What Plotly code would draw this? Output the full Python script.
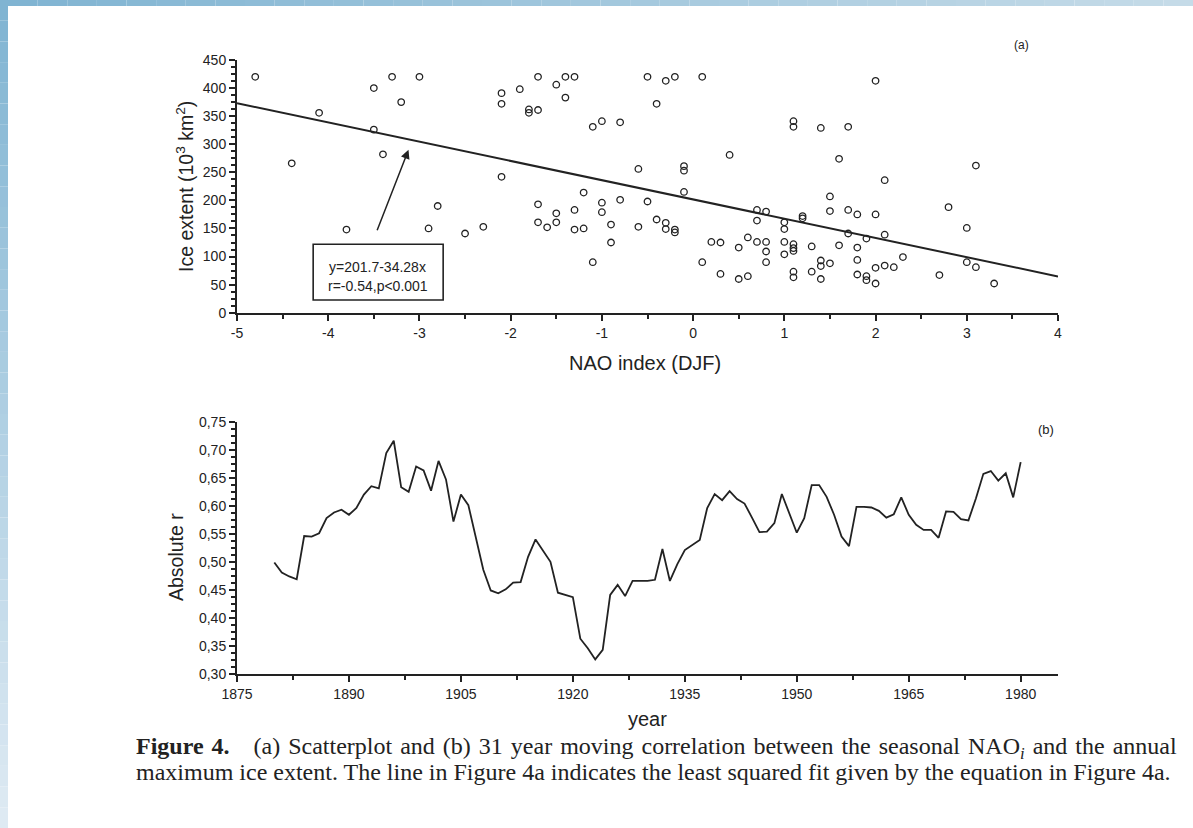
import plotly.graph_objects as go

# ---------------- data ----------------
nao_index = [
    -4.8, -4.4, -4.1, -3.8, -3.5, -3.5, -3.4, -3.3, -3.2, -3.0, -2.9, -2.8, -2.5,
    -2.3, -2.1, -2.1, -2.1, -1.9, -1.8, -1.8, -1.7, -1.7, -1.7, -1.7, -1.6, -1.5, -1.5, -1.5,
    -1.4, -1.4, -1.3, -1.3, -1.3, -1.2, -1.2, -1.1, -1.1, -1.0, -1.0, -1.0, -0.9, -0.9,
    -0.8, -0.8, -0.6, -0.6, -0.5, -0.5, -0.4, -0.4, -0.3, -0.3, -0.3, -0.2, -0.2, -0.2,
    -0.1, -0.1, -0.1, 0.1, 0.1, 0.2, 0.3, 0.3, 0.4, 0.5, 0.5, 0.6, 0.6, 0.7, 0.7, 0.7,
    0.8, 0.8, 0.8, 0.8,
    2.0, 1.1, 1.1, 1.4, 1.7, 1.6, 3.1, 2.1, 1.5, 1.5, 1.7, 1.8, 2.0, 2.8, 1.2, 1.2,
    1.0, 1.0, 1.7, 1.9, 2.1, 3.0, 1.0, 1.1, 1.1, 1.1, 1.3, 1.6, 1.8, 1.0, 1.4, 1.4,
    1.5, 1.8, 2.3, 2.1, 2.2, 2.0, 3.0, 3.1, 1.1, 1.1, 1.3, 1.4, 1.8, 1.9, 1.9, 2.0,
    2.7, 3.3,
]
ice_extent = [
    420, 266, 356, 148, 400, 326, 282, 420, 375, 420, 150, 190, 141,
    153, 391, 372, 242, 398, 362, 356, 420, 361, 193, 161, 152, 406, 177, 161,
    420, 383, 420, 183, 148, 214, 150, 331, 90, 341, 196, 179, 157, 125,
    339, 201, 256, 153, 420, 198, 372, 166, 413, 160, 149, 420, 148, 143,
    261, 253, 215, 420, 90, 126, 125, 69, 281, 116, 60, 134, 65, 183, 164, 126,
    180, 126, 109, 90,
    413, 341, 331, 329, 331, 274, 262, 236, 207, 181, 183, 175, 175, 188, 172, 168,
    161, 149, 141, 132, 139, 151, 126, 122, 115, 110, 118, 120, 116, 104, 93, 83,
    88, 94, 99, 84, 81, 80, 90, 81, 73, 63, 73, 60, 68, 65, 58, 52,
    67, 52,
]

fit_intercept = 201.7
fit_slope = -34.28
fit_x_range = [-5, 4]

years = list(range(1880, 1981))
abs_r = [
    0.499, 0.481, 0.474, 0.469, 0.546, 0.545, 0.551, 0.578, 0.588, 0.593,
    0.584, 0.596, 0.620, 0.635, 0.631, 0.694, 0.716, 0.633, 0.625, 0.670,
    0.663, 0.627, 0.680, 0.647, 0.572, 0.620, 0.601, 0.545, 0.486, 0.449,
    0.444, 0.451, 0.463, 0.464, 0.509, 0.540, 0.521, 0.500, 0.445, 0.441,
    0.437, 0.363, 0.346, 0.326, 0.343, 0.441, 0.459, 0.439, 0.466, 0.466,
    0.466, 0.468, 0.523, 0.466, 0.496, 0.521, 0.530, 0.539, 0.596, 0.621,
    0.610, 0.626, 0.612, 0.604, 0.579, 0.553, 0.554, 0.569, 0.621, 0.585,
    0.552, 0.578, 0.637, 0.637, 0.616, 0.584, 0.545, 0.528, 0.598, 0.598,
    0.597, 0.591, 0.579, 0.585, 0.615, 0.584, 0.566, 0.557, 0.557, 0.543,
    0.590, 0.589, 0.576, 0.574, 0.613, 0.657, 0.662, 0.645, 0.658, 0.615,
    0.678,
]

x1_ticks = [-5, -4, -3, -2, -1, 0, 1, 2, 3, 4]
x1_labels = ["-5", "-4", "-3", "-2", "-1", "0", "1", "2", "3", "4"]
y1_ticks = [0, 50, 100, 150, 200, 250, 300, 350, 400, 450]
x2_ticks = [1875, 1890, 1905, 1920, 1935, 1950, 1965, 1980]
y2_ticks = [0.30, 0.35, 0.40, 0.45, 0.50, 0.55, 0.60, 0.65, 0.70, 0.75]
y2_labels = ["0,30", "0,35", "0,40", "0,45", "0,50", "0,55", "0,60", "0,65", "0,70", "0,75"]

caption_line1 = ("<b>Figure 4.</b>   (a) Scatterplot and (b) 31 year moving correlation "
                 "between the seasonal NAO<sub><i>i</i></sub> and the annual")
caption_line2 = ("maximum ice extent. The line in Figure 4a indicates the least squared "
                 "fit given by the equation in Figure 4a.")

# ---------------- figure ----------------
W, H = 1193, 828
L, R, T, B = 237, 1058, 60, 674   # plot-area pixel box


def px(xp):
    return (xp - L) / (R - L)


def py(yp):
    return (B - yp) / (B - T)


fig = go.Figure()

fig.add_trace(go.Scatter(
    x=nao_index, y=ice_extent, mode="markers",
    marker=dict(symbol="circle-open", size=6.5, color="#222", line=dict(width=1.3)),
    xaxis="x", yaxis="y", showlegend=False, hoverinfo="skip"))

fit_y = [fit_intercept + fit_slope * v for v in fit_x_range]
fig.add_trace(go.Scatter(
    x=fit_x_range, y=fit_y, mode="lines",
    line=dict(color="#222", width=2), xaxis="x", yaxis="y",
    showlegend=False, hoverinfo="skip"))

fig.add_trace(go.Scatter(
    x=years, y=abs_r, mode="lines",
    line=dict(color="#222", width=1.8), xaxis="x2", yaxis="y2",
    showlegend=False, hoverinfo="skip"))

font_sans = "Liberation Sans, Arial, sans-serif"
tickfont = dict(family=font_sans, size=14, color="#222")

axis_common = dict(
    showgrid=False, zeroline=False, showline=True, linecolor="#222", linewidth=2,
    ticks="outside", tickcolor="#222", tickwidth=1.5, ticklen=6, tickfont=tickfont,
)

fig.update_layout(
    width=W, height=H,
    margin=dict(l=L, r=W - R, t=T, b=H - B),
    paper_bgcolor="white", plot_bgcolor="white",
    xaxis=dict(domain=[0, 1], anchor="y", range=[-5, 4], tickmode="array",
               tickvals=x1_ticks, ticktext=x1_labels,
               minor=dict(tickmode="linear", tick0=-5, dtick=0.5, ticklen=4,
                          tickcolor="#222", tickwidth=1.5, ticks="outside"),
               **axis_common),
    yaxis=dict(domain=[py(312.7), 1], anchor="x", range=[0, 450], tickmode="array",
               tickvals=y1_ticks,
               minor=dict(tickmode="linear", tick0=0, dtick=12.5, ticklen=4,
                          tickcolor="#222", tickwidth=1.5, ticks="outside"),
               **axis_common),
    xaxis2=dict(domain=[0, 1], anchor="y2", range=[1875, 1985], tickmode="array",
                tickvals=x2_ticks,
                minor=dict(tickmode="linear", tick0=1875, dtick=7.5, ticklen=4,
                           tickcolor="#222", tickwidth=1.5, ticks="outside"),
                **axis_common),
    yaxis2=dict(domain=[0, py(421.7)], anchor="x2", range=[0.30, 0.75], tickmode="array",
                tickvals=y2_ticks, ticktext=y2_labels,
                minor=dict(tickmode="linear", tick0=0.30, dtick=0.0125, ticklen=4,
                           tickcolor="#222", tickwidth=1.5, ticks="outside"),
                **axis_common),
)


def note(x, y, text, size, family=font_sans, angle=0, xanchor="center", yanchor="middle"):
    fig.add_annotation(xref="paper", yref="paper", x=x, y=y, text=text, textangle=angle,
                       xanchor=xanchor, yanchor=yanchor, showarrow=False,
                       font=dict(family=family, size=size, color="#222"))


# regression box and arrow
fig.add_shape(type="rect", xref="x", yref="y", x0=-4.165, x1=-2.74, y0=22.6, y1=122,
              line=dict(color="#222", width=1.6), fillcolor="white")
fig.add_annotation(xref="x", yref="y", x=-3.455, y=81, text="y=201.7-34.28x",
                   xanchor="center", yanchor="middle",
                   showarrow=False, font=dict(family=font_sans, size=14, color="#222"))
fig.add_annotation(xref="x", yref="y", x=-3.455, y=48, text="r=-0.54,p&lt;0.001",
                   xanchor="center", yanchor="middle",
                   showarrow=False, font=dict(family=font_sans, size=14, color="#222"))
fig.add_annotation(xref="x", yref="y", x=-3.12, y=290, axref="x", ayref="y",
                   ax=-3.47, ay=144, text="", showarrow=True, arrowhead=2,
                   arrowsize=1.2, arrowwidth=1.5, arrowcolor="#222")

# axis titles and panel labels
note(px(185), py(187), "Ice extent (10<sup>3</sup> km<sup>2</sup>)", 19.5, angle=-90)
note(px(645), py(363), "NAO index (DJF)", 20)
note(px(176), py(557), "Absolute r", 19.5, angle=-90)
note(px(647), py(719), "year", 20)
note(px(1021), py(45), "(a)", 12)
note(px(1046), py(429), "(b)", 13)

# caption (first line justified with hair spaces, as in the printed figure)
font_serif = "Liberation Serif, Times New Roman, serif"
note(px(134), py(748), caption_line1.replace(" ", " \u200a"), 24,
     family=font_serif, xanchor="left")
note(px(134), py(772), caption_line2, 24, family=font_serif, xanchor="left")

# blue gradient frame (left and top edges)
n = 40
c_top = (128, 180, 210)
c_bot = (222, 234, 243)
c_right = (197, 219, 232)
for i in range(n):
    f = i / (n - 1)
    col = tuple(int(round(a + (b - a) * f)) for a, b in zip(c_top, c_bot))
    fig.add_shape(type="rect", xref="paper", yref="paper", layer="above",
                  x0=px(0), x1=px(8), y0=py(H * (i + 1) / n), y1=py(H * i / n),
                  line=dict(width=0), fillcolor="rgb(%d,%d,%d)" % col)
    col2 = tuple(int(round(a + (b - a) * f)) for a, b in zip(c_top, c_right))
    fig.add_shape(type="rect", xref="paper", yref="paper", layer="above",
                  x0=px(8 + (W - 8) * i / n), x1=px(8 + (W - 8) * (i + 1) / n),
                  y0=py(6), y1=py(0),
                  line=dict(width=0), fillcolor="rgb(%d,%d,%d)" % col2)

fig.write_html("out.html")
